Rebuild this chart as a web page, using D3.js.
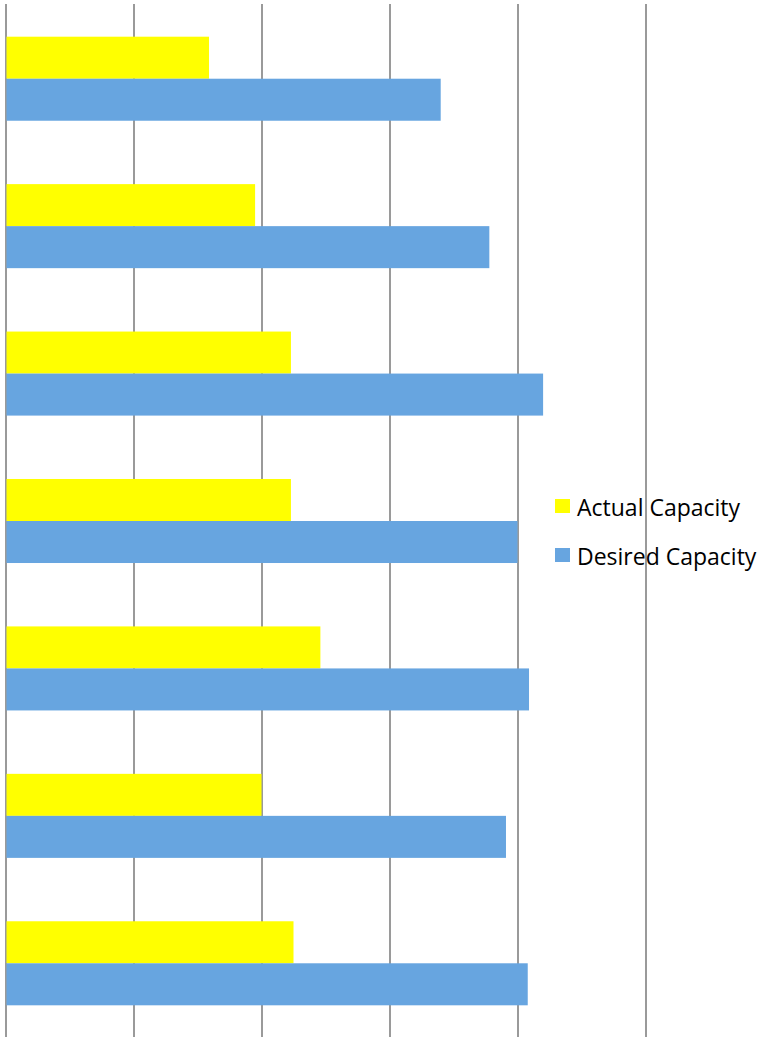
<!DOCTYPE html>
<html>
<head>
<meta charset="utf-8">
<script src="https://cdn.jsdelivr.net/npm/d3@7"></script>
<style>
  html, body { margin: 0; padding: 0; background: #fff; }
  svg { display: block; }
</style>
</head>
<body>
<svg id="chart" width="761" height="1037"></svg>
<script>
// Capacity per group (top to bottom)
const categories = ["G1", "G2", "G3", "G4", "G5", "G6", "G7"];
const actualCapacity  = [1.59, 1.95, 2.23, 2.23, 2.46, 2.00, 2.25];
const desiredCapacity = [3.40, 3.78, 4.20, 4.00, 4.09, 3.91, 4.08];
const seriesNames = ["Actual Capacity", "Desired Capacity"];
const seriesColors = ["#ffff00", "#67a5e0"];
const xTicks = [0, 1, 2, 3, 4, 5];

const svg = d3.select("#chart");
const plotLeft = 5.5, plotRight = 645.5, plotTop = 5, plotBottom = 1037;

const x = d3.scaleLinear().domain([0, 5]).range([plotLeft, plotRight]);
const y = d3.scaleBand().domain(categories).range([plotTop, plotBottom]).paddingInner(0.43).paddingOuter(0.215);
const ySub = d3.scaleBand().domain(seriesNames).range([0, y.bandwidth()]);

// vertical gridlines
svg.append("g")
  .attr("transform", `translate(0,${plotBottom})`)
  .call(d3.axisBottom(x).tickValues(xTicks).tickSize(-(plotBottom - 4)).tickFormat(""))
  .call(g => g.select(".domain").remove())
  .call(g => g.selectAll(".tick line").attr("stroke", "#9a9a9a").attr("stroke-width", 2));

const rows = categories.map((c, i) => ({ cat: c, values: [actualCapacity[i], desiredCapacity[i]] }));

const grp = svg.append("g").selectAll("g").data(rows).join("g")
  .attr("transform", d => `translate(0,${y(d.cat)})`);

grp.selectAll("rect")
  .data(d => d.values.map((v, k) => ({ name: seriesNames[k], v, color: seriesColors[k] })))
  .join("rect")
  .attr("x", x(0) + 1)
  .attr("y", d => ySub(d.name))
  .attr("width", d => x(d.v) - x(0) - 1)
  .attr("height", ySub.bandwidth())
  .attr("fill", d => d.color);

// legend
const legend = svg.append("g").selectAll("g").data(seriesNames).join("g")
  .attr("transform", (d, i) => `translate(555,${499 + i * 49})`);
legend.append("rect").attr("width", 15).attr("height", 14).attr("fill", (d, i) => seriesColors[i]);
legend.append("text")
  .attr("x", 22).attr("y", 16.5)
  .attr("font-family", "'Open Sans', sans-serif")
  .attr("font-size", 23)
  .attr("fill", "#000")
  .text(d => d);
</script>
</body>
</html>
